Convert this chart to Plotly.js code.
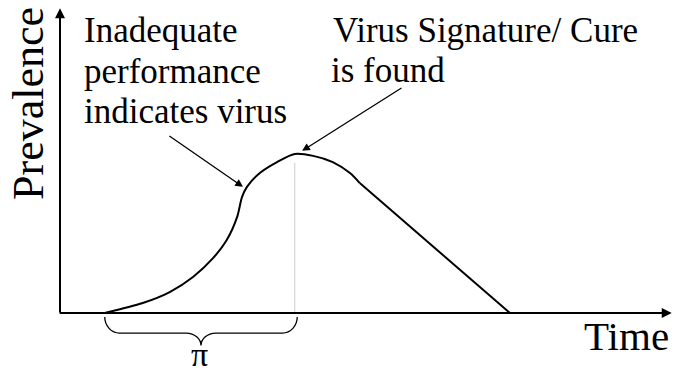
<!DOCTYPE html>
<html>
<head>
<meta charset="utf-8">
<style>
html,body{margin:0;padding:0;background:#fff;}
#chart svg text, #chart svg tspan { font-family: "Liberation Serif", "Times New Roman", serif !important; }
</style>
<script src="https://cdn.plot.ly/plotly-3.0.1.min.js"></script>
</head>
<body>
<div id="chart" style="width:673px;height:372px;"></div>
<script>
// ---- data (time in arbitrary units, prevalence in arbitrary units) ----
const riseTime = [7.3, 13.5, 17.9, 21.7, 25.0, 27.2, 28.9, 29.7, 30.5, 32.6, 35.4, 38.3, 41.3, 44.5, 47.3, 48.9];
const risePrevalence = [0, 3.2, 6.7, 11.5, 17.6, 23.3, 30.7, 37.1, 40.3, 44.7, 48.2, 50.8, 50.2, 48.2, 44.7, 41.5];
const declineTime = [48.9, 73.4];
const declinePrevalence = [41.5, 0];
const cureTime = 38.3;          // virus signature / cure found
const cureMarkerTop = 48.0;
const onsetTime = 7.3;          // start of the interval pi
const xAxisLabel = 'Time';
const yAxisLabel = 'Prevalence';
const intervalLabel = 'π';
const noteInadequate = ['Inadequate', 'performance', 'indicates virus'];
const noteCure = ['Virus Signature/ Cure', 'is found'];

const FONT = '"Liberation Serif", "Times New Roman", serif';

const traces = [
  {x: riseTime, y: risePrevalence, mode: 'lines', line: {color: '#000', width: 2, shape: 'spline', smoothing: 0.8}, hoverinfo: 'skip'},
  {x: declineTime, y: declinePrevalence, mode: 'lines', line: {color: '#000', width: 2}, hoverinfo: 'skip'},
  {x: [cureTime, cureTime], y: [0, cureMarkerTop], mode: 'lines', line: {color: '#cfcfcf', width: 1}, hoverinfo: 'skip'}
];

// brace under the interval [onsetTime, cureTime]
function brace(x0, x1, yTop, yMid, yTip) {
  const xm = (x0 + x1) / 2;
  const r = 2.4, k = 0.55;
  const dyE = yMid - yTop, dyM = yTip - yMid;
  return `M ${x0},${yTop} C ${x0},${yTop + dyE * k} ${x0 + r * (1 - k)},${yMid} ${x0 + r},${yMid} ` +
         `L ${xm - r},${yMid} C ${xm - r * (1 - k)},${yMid} ${xm},${yMid + dyM * (1 - k)} ${xm},${yTip} ` +
         `C ${xm},${yMid + dyM * (1 - k)} ${xm + r * (1 - k)},${yMid} ${xm + r},${yMid} ` +
         `L ${x1 - r},${yMid} C ${x1 - r * (1 - k)},${yMid} ${x1},${yTop + dyE * k} ${x1},${yTop}`;
}

const annotations = [];
// axes with arrowheads
annotations.push({x: 0, y: 97.4, ax: 0, ay: -0.3, xref: 'x', yref: 'y', axref: 'x', ayref: 'y', text: '', showarrow: true, arrowhead: 2, arrowsize: 1, arrowwidth: 2, arrowcolor: '#000', standoff: 0});
annotations.push({x: 99.8, y: 0, ax: -0.3, ay: 0, xref: 'x', yref: 'y', axref: 'x', ayref: 'y', text: '', showarrow: true, arrowhead: 2, arrowsize: 1, arrowwidth: 2, arrowcolor: '#000', standoff: 0});
// pointer arrows
annotations.push({x: 29.85, y: 40.3, ax: 17.6, ay: 56.9, xref: 'x', yref: 'y', axref: 'x', ayref: 'y', text: '', showarrow: true, arrowhead: 2, arrowsize: 1.2, arrowwidth: 1.3, arrowcolor: '#000', standoff: 0});
annotations.push({x: 39.5, y: 51.8, ax: 55.95, ay: 72.2, xref: 'x', yref: 'y', axref: 'x', ayref: 'y', text: '', showarrow: true, arrowhead: 2, arrowsize: 1.2, arrowwidth: 1.3, arrowcolor: '#000', standoff: 0});
// text notes
const inadY = [90.1, 77.3, 64.5];
noteInadequate.forEach((t, i) => annotations.push({x: 3.75, y: inadY[i], xref: 'x', yref: 'y', text: t, showarrow: false, xanchor: 'left', yanchor: 'middle', borderpad: 0, font: {family: FONT, size: 35, color: '#000'}}));
const cureX = [44.4, 44.0], cureY = [90.1, 77.6];
noteCure.forEach((t, i) => annotations.push({x: cureX[i], y: cureY[i], xref: 'x', yref: 'y', text: t, showarrow: false, xanchor: 'left', yanchor: 'middle', borderpad: 0, font: {family: FONT, size: 35, color: '#000'}}));
annotations.push({x: -5.06, y: 67.1, xref: 'x', yref: 'y', text: yAxisLabel, textangle: -90, showarrow: false, xanchor: 'center', yanchor: 'middle', borderpad: 0, font: {family: FONT, size: 44, color: '#000'}});
annotations.push({x: 85.3, y: -7.35, xref: 'x', yref: 'y', text: xAxisLabel, showarrow: false, xanchor: 'left', yanchor: 'middle', borderpad: 0, font: {family: FONT, size: 41, color: '#000'}});
annotations.push({x: (onsetTime + cureTime) / 2, y: -13.4, xref: 'x', yref: 'y', text: intervalLabel, showarrow: false, xanchor: 'center', yanchor: 'middle', borderpad: 0, font: {family: FONT, size: 34, color: '#000'}});

const layout = {
  width: 673, height: 372,
  margin: {l: 0, r: 0, t: 0, b: 0},
  paper_bgcolor: '#fff', plot_bgcolor: '#fff',
  showlegend: false,
  xaxis: {range: [-9.788, 100], visible: false, fixedrange: true},
  yaxis: {range: [-18.85, 100], visible: false, fixedrange: true},
  shapes: [
    {type: 'path', xref: 'x', yref: 'y', path: brace(onsetTime, cureTime + 0.4, -1.3, -6.4, -10.4), line: {color: '#000', width: 1.3}}
  ],
  annotations: annotations
};

Plotly.newPlot('chart', traces, layout, {displayModeBar: false, staticPlot: true});
</script>
</body>
</html>
